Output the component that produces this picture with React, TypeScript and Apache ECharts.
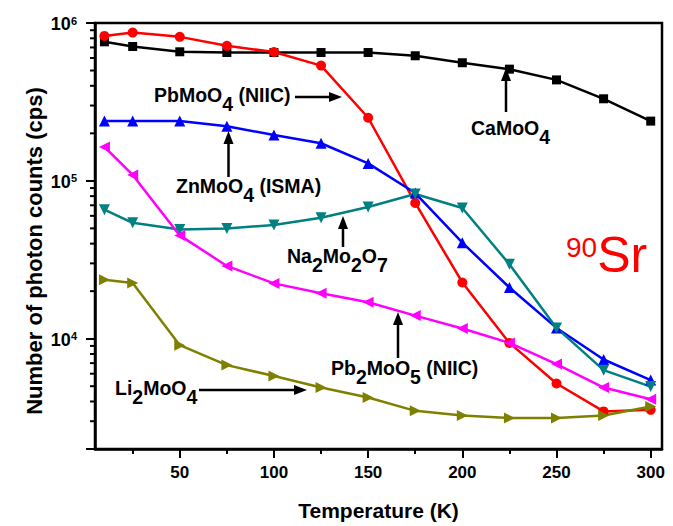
import React, { useEffect, useRef } from "react";
import * as echarts from "echarts";

// Temperature sweep (K)
const temps = [10, 25, 50, 75, 100, 125, 150, 175, 200, 225, 250, 275, 300];

// Photon counts (cps) per scintillator
const caMoO4 = [760000, 710000, 657000, 650000, 650000, 650000, 650000, 620000, 560000, 510000, 436000, 331000, 239000];
const pbMoO4 = [828000, 870000, 817000, 717000, 655000, 537000, 251000, 72400, 22700, 9400, 5200, 3460, 3540];
const znMoO4 = [239000, 239000, 239000, 222000, 195000, 173000, 129000, 83700, 40600, 21100, 11700, 7380, 5470];
const na2Mo2O7 = [65700, 54200, 49200, 49900, 52500, 58300, 68300, 82500, 67300, 29600, 11700, 6320, 4970];
const pb2MoO5 = [164000, 109000, 45100, 28900, 22400, 19400, 17000, 14000, 11600, 9400, 6900, 4900, 4130];
const li2MoO4 = [23600, 22500, 9100, 6800, 5800, 4900, 4240, 3490, 3260, 3140, 3140, 3260, 3720];

// Axis ranges and ticks
const xMin = 5;
const xMax = 306;
const yMin = 2000;
const yMax = 1000000;
const xMajorTicks = [50, 100, 150, 200, 250, 300];
const xMinorTicks = [25, 75, 125, 175, 225, 275];
const yMinorTicks = [
  3000, 4000, 5000, 6000, 7000, 8000, 9000,
  20000, 30000, 40000, 50000, 60000, 70000, 80000, 90000,
  200000, 300000, 400000, 500000, 600000, 700000, 800000, 900000,
];

const FONT = '"Liberation Sans", Arial, sans-serif';

const pair = (ys: number[]) => temps.map((t, i) => [t, ys[i]]);

function lineSeries(name: string, ys: number[], color: string, symbol: string, size: number, rotate = 0) {
  return {
    type: "line",
    name,
    data: pair(ys),
    symbol,
    symbolSize: size,
    symbolRotate: rotate,
    lineStyle: { color, width: 2.5 },
    itemStyle: { color },
    xAxisIndex: 0,
    yAxisIndex: 0,
  };
}

const NOTE_SIZE = 19.5;

const labelRich = (size: number) => ({
  n: { fontFamily: FONT, fontSize: size, fontWeight: "bold", fill: "#000", verticalAlign: "top" },
  s: { fontFamily: FONT, fontSize: size, fontWeight: "bold", fill: "#000", verticalAlign: "top", padding: [9, 0, 0, 0] },
});

function note(x: number, centerY: number, text: string) {
  return {
    type: "text",
    x,
    y: centerY - NOTE_SIZE / 2,
    z: 100,
    style: {
      text,
      rich: labelRich(NOTE_SIZE),
      fill: "#000",
      align: "left",
      verticalAlign: "top",
    },
  };
}

function arrow(x1: number, y1: number, x2: number, y2: number) {
  // shaft from (x1,y1) to the base of the head, head tip at (x2,y2)
  const dx = x2 - x1;
  const dy = y2 - y1;
  const len = Math.sqrt(dx * dx + dy * dy);
  const ux = dx / len;
  const uy = dy / len;
  const headLen = 13;
  const headW = 5;
  const bx = x2 - ux * headLen;
  const by = y2 - uy * headLen;
  return [
    {
      type: "line",
      z: 100,
      shape: { x1, y1, x2: bx, y2: by },
      style: { stroke: "#000", lineWidth: 2.5 },
    },
    {
      type: "polygon",
      z: 100,
      shape: {
        points: [
          [bx - uy * headW, by + ux * headW],
          [x2, y2],
          [bx + uy * headW, by - ux * headW],
        ],
      },
      style: { fill: "#000" },
    },
  ];
}

export default function App() {
  const ref = useRef<HTMLDivElement>(null);

  useEffect(() => {
    if (!ref.current) return;
    const chart = echarts.init(ref.current, null, { renderer: "svg" });

    const option = {
      animation: false,
      backgroundColor: "#fff",
      grid: {
        left: 95,
        right: 11,
        top: 23,
        bottom: 75,
        show: true,
        borderColor: "#000",
        borderWidth: 2.5,
        backgroundColor: "transparent",
      },
      xAxis: [
        {
          type: "value",
          min: xMin,
          max: xMax,
          position: "bottom",
          name: "Temperature (K)",
          nameLocation: "middle",
          nameGap: 51,
          nameTextStyle: { fontFamily: FONT, fontSize: 21, fontWeight: "bold", color: "#000" },
          axisLine: { show: true, lineStyle: { color: "#000", width: 2.5 } },
          axisTick: { show: true, inside: false, length: 9, customValues: xMajorTicks, lineStyle: { color: "#000", width: 2 } },
          axisLabel: {
            customValues: xMajorTicks,
            margin: 15,
            fontFamily: FONT,
            fontSize: 17,
            fontWeight: "bold",
            color: "#000",
          },
          splitLine: { show: false },
        },
        {
          type: "value",
          min: xMin,
          max: xMax,
          position: "bottom",
          axisLine: { show: false },
          axisTick: { show: true, inside: false, length: 5, customValues: xMinorTicks, lineStyle: { color: "#000", width: 2 } },
          axisLabel: { show: false },
          splitLine: { show: false },
        },
      ],
      yAxis: [
        {
          type: "log",
          logBase: 10,
          min: yMin,
          max: yMax,
          position: "left",
          axisLine: { show: true, lineStyle: { color: "#000", width: 2.5 } },
          axisTick: { show: true, inside: false, length: 9, lineStyle: { color: "#000", width: 2 } },
          axisLabel: {
            margin: 18,
            formatter: (v: number) => {
              const e = Math.log10(v);
              if (Math.abs(e - Math.round(e)) > 1e-6) return "";
              return `{b|10}{s|${Math.round(e)}}`;
            },
            rich: {
              b: { fontFamily: FONT, fontSize: 18, fontWeight: "bold", color: "#000", verticalAlign: "top", padding: [2, 0, 0, 0] },
              s: { fontFamily: FONT, fontSize: 11, fontWeight: "bold", color: "#000", verticalAlign: "top", padding: [2, 0, 0, 0] },
            },
          },
          splitLine: { show: false },
          minorTick: { show: false },
        },
      ],
      series: [
        lineSeries("CaMoO4", caMoO4, "#000000", "rect", 9),
        lineSeries("PbMoO4 (NIIC)", pbMoO4, "#ff0000", "circle", 10),
        lineSeries("ZnMoO4 (ISMA)", znMoO4, "#0000ff", "triangle", 11),
        lineSeries("Na2Mo2O7", na2Mo2O7, "#008080", "triangle", 11, 180),
        lineSeries("Pb2MoO5 (NIIC)", pb2MoO5, "#ff00ff", "triangle", 11, 90),
        lineSeries("Li2MoO4", li2MoO4, "#808000", "triangle", 11, -90),
        {
          // minor ticks of the logarithmic count axis
          type: "custom",
          xAxisIndex: 0,
          yAxisIndex: 0,
          silent: true,
          clip: false,
          z: 10,
          data: yMinorTicks.map((v) => [xMin, v]),
          renderItem: (params: any, api: any) => {
            const p = api.coord([api.value(0), api.value(1)]);
            return {
              type: "line",
              shape: { x1: p[0] - 5, y1: p[1], x2: p[0], y2: p[1] },
              style: { stroke: "#000", lineWidth: 2 },
            };
          },
        },
      ],
      graphic: [
        {
          type: "text",
          x: 34,
          y: 251,
          rotation: Math.PI / 2,
          z: 100,
          style: {
            text: "Number of photon counts (cps)",
            fontFamily: FONT,
            fontSize: 22,
            fontWeight: "bold",
            fill: "#000",
            align: "center",
            verticalAlign: "middle",
          },
        },
        note(154, 95, "{n|PbMoO}{s|4}{n| (NIIC)}"),
        ...arrow(295, 97, 342, 97),
        note(471, 127.5, "{n|CaMoO}{s|4}"),
        ...arrow(506, 112, 506, 68),
        note(176, 186, "{n|ZnMoO}{s|4}{n| (ISMA)}"),
        ...arrow(228.5, 177, 228.5, 131),
        note(287, 256, "{n|Na}{s|2}{n|Mo}{s|2}{n|O}{s|7}"),
        ...arrow(343, 247, 343, 216),
        note(331, 368, "{n|Pb}{s|2}{n|MoO}{s|5}{n| (NIIC)}"),
        ...arrow(398, 358, 398, 312),
        note(115, 388, "{n|Li}{s|2}{n|MoO}{s|4}"),
        ...arrow(199, 390, 307, 390),
        {
          type: "text",
          x: 566,
          y: 230,
          z: 100,
          style: {
            text: "{p|90}{e|Sr}",
            fill: "#ff0000",
            align: "left",
            verticalAlign: "top",
            rich: {
              p: { fontFamily: FONT, fontSize: 28, fill: "#ff0000", verticalAlign: "top", padding: [3, 0, 0, 0] },
              e: { fontFamily: FONT, fontSize: 50, fill: "#ff0000", verticalAlign: "top" },
            },
          },
        },
      ],
    };

    chart.setOption(option as any);
    return () => chart.dispose();
  }, []);

  return (
    <div
      ref={ref}
      style={{ position: "fixed", left: 0, top: 0, width: 673, height: 526, background: "#fff" }}
    />
  );
}
